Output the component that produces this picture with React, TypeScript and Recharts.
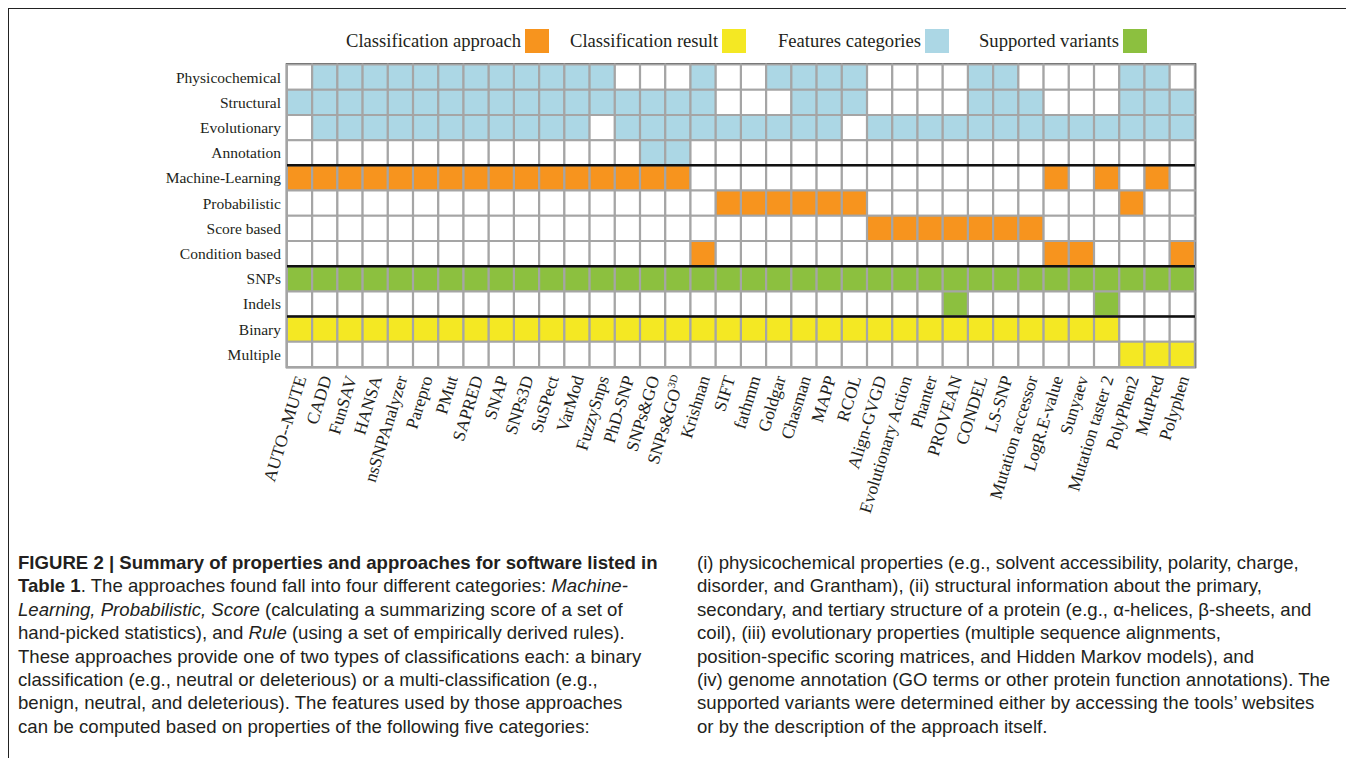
import React from "react";
import { BarChart, Bar, XAxis, YAxis, Cell, ReferenceLine, ReferenceArea } from "recharts";

// tools along the x axis ("^" marks a superscript part)
const tools = [
  "AUTO--MUTE", "CADD", "FunSAV", "HANSA", "nsSNPAnalyzer", "Parepro", "PMut", "SAPRED",
  "SNAP", "SNPs3D", "SuSPect", "VarMod", "FuzzySnps", "PhD-SNP", "SNPs&GO", "SNPs&GO^3D",
  "Krishnan", "SIFT", "fathmm", "Goldgar", "Chasman", "MAPP", "RCOL", "Align-GVGD",
  "Evolutionary Action", "Phanter", "PROVEAN", "CONDEL", "LS-SNP", "Mutation accessor",
  "LogR.E-value", "Sunyaev", "Mutation taster 2", "PolyPhen2", "MutPred", "Polyphen",
];

const rowLabels = [
  "Physicochemical", "Structural", "Evolutionary", "Annotation",
  "Machine-Learning", "Probabilistic", "Score based", "Condition based",
  "SNPs", "Indels", "Binary", "Multiple",
];

// 1 = property applies to the tool (one entry per tool, same order as `tools`)
const physicochemical = [0,1,1,1,1,1,1,1,1,1,1,1,1,0,0,0,1,0,0,1,1,1,1,0,0,0,0,1,1,0,0,0,0,1,1,0];
const structural      = [1,1,1,1,1,1,1,1,1,1,1,1,1,1,1,1,1,0,0,0,1,1,1,0,0,0,0,1,1,1,0,0,0,1,1,1];
const evolutionary    = [0,1,1,1,1,1,1,1,1,1,1,1,0,1,1,1,1,1,1,1,1,1,0,1,1,1,1,1,1,1,1,1,1,1,1,1];
const annotation      = [0,0,0,0,0,0,0,0,0,0,0,0,0,0,1,1,0,0,0,0,0,0,0,0,0,0,0,0,0,0,0,0,0,0,0,0];
const machineLearning = [1,1,1,1,1,1,1,1,1,1,1,1,1,1,1,1,0,0,0,0,0,0,0,0,0,0,0,0,0,0,1,0,1,0,1,0];
const probabilistic   = [0,0,0,0,0,0,0,0,0,0,0,0,0,0,0,0,0,1,1,1,1,1,1,0,0,0,0,0,0,0,0,0,0,1,0,0];
const scoreBased      = [0,0,0,0,0,0,0,0,0,0,0,0,0,0,0,0,0,0,0,0,0,0,0,1,1,1,1,1,1,1,0,0,0,0,0,0];
const conditionBased  = [0,0,0,0,0,0,0,0,0,0,0,0,0,0,0,0,1,0,0,0,0,0,0,0,0,0,0,0,0,0,1,1,0,0,0,1];
const snps            = [1,1,1,1,1,1,1,1,1,1,1,1,1,1,1,1,1,1,1,1,1,1,1,1,1,1,1,1,1,1,1,1,1,1,1,1];
const indels          = [0,0,0,0,0,0,0,0,0,0,0,0,0,0,0,0,0,0,0,0,0,0,0,0,0,0,1,0,0,0,0,0,1,0,0,0];
const binary          = [1,1,1,1,1,1,1,1,1,1,1,1,1,1,1,1,1,1,1,1,1,1,1,1,1,1,1,1,1,1,1,1,1,0,0,0];
const multiple        = [0,0,0,0,0,0,0,0,0,0,0,0,0,0,0,0,0,0,0,0,0,0,0,0,0,0,0,0,0,0,0,0,0,1,1,1];

const matrix = [
  physicochemical, structural, evolutionary, annotation,
  machineLearning, probabilistic, scoreBased, conditionBased,
  snps, indels, binary, multiple,
];

const BLUE = "#acd7e5";
const ORANGE = "#f7941e";
const GREEN = "#8cc03f";
const YELLOW = "#f4e823";
const rowColors = [BLUE, BLUE, BLUE, BLUE, ORANGE, ORANGE, ORANGE, ORANGE, GREEN, GREEN, YELLOW, YELLOW];
const groupBreaks = [4, 8, 10];

const legendItems = [
  { label: "Classification approach", color: ORANGE },
  { label: "Classification result", color: YELLOW },
  { label: "Features categories", color: BLUE },
  { label: "Supported variants", color: GREEN },
];
const legendLeft = [337, 561, 769, 970];

const SERIF = "'Liberation Serif', 'Times New Roman', serif";
const SANS = "'Liberation Sans', Arial, sans-serif";
const INK = "#231f20";

// every row is one unit-high stacked segment; colour comes from the matrix
const data = tools.map((tool) => {
  const d: Record<string, string | number> = { tool };
  rowLabels.forEach((_, j) => (d[`r${j}`] = 1));
  return d;
});

function ToolTick({ x, y, payload }: any) {
  const [main, sup] = String(payload.value).split("^");
  return (
    <g transform={`translate(${x + 7},${y + 9}) rotate(-73)`}>
      <text x={0} y={0} textAnchor="end" fontSize={17.5} fontFamily={SERIF} fill={INK}>
        {main}
        {sup && (
          <tspan fontSize={11} dy={-7}>
            {sup}
          </tspan>
        )}
      </text>
    </g>
  );
}

const captionLeft = [
  <b>FIGURE 2 | Summary of properties and approaches for software listed in</b>,
  <>
    <b>Table 1</b>. The approaches found fall into four different categories: <i>Machine-</i>
  </>,
  <>
    <i>Learning, Probabilistic, Score</i> (calculating a summarizing score of a set of
  </>,
  <>
    hand-picked statistics), and <i>Rule</i> (using a set of empirically derived rules).
  </>,
  "These approaches provide one of two types of classifications each: a binary",
  "classification (e.g., neutral or deleterious) or a multi-classification (e.g.,",
  "benign, neutral, and deleterious). The features used by those approaches",
  "can be computed based on properties of the following five categories:",
];

const captionRight = [
  "(i) physicochemical properties (e.g., solvent accessibility, polarity, charge,",
  "disorder, and Grantham), (ii) structural information about the primary,",
  "secondary, and tertiary structure of a protein (e.g., \u03b1-helices, \u03b2-sheets, and",
  "coil), (iii) evolutionary properties (multiple sequence alignments,",
  "position-specific scoring matrices, and Hidden Markov models), and",
  "(iv) genome annotation (GO terms or other protein function annotations). The",
  "supported variants were determined either by accessing the tools\u2019 websites",
  "or by the description of the approach itself.",
];

function CaptionColumn({ lines, left }: { lines: React.ReactNode[]; left: number }) {
  return (
    <>
      {lines.map((line, i) => (
        <div
          key={i}
          style={{
            position: "absolute",
            left,
            top: 542 + i * 23.4,
            lineHeight: "24px",
            whiteSpace: "nowrap",
            fontFamily: SANS,
            fontSize: 18.6,
            color: INK,
          }}
        >
          {line}
        </div>
      ))}
    </>
  );
}

export default function App() {
  return (
    <div
      style={{
        position: "relative",
        width: 1346,
        height: 760,
        boxSizing: "border-box",
        borderTop: "1px solid #222",
        borderLeft: "1px solid #222",
        borderRight: "1px solid #222",
        background: "#fff",
      }}
    >
      {legendItems.map((item, i) => (
        <div
          key={item.label}
          style={{
            position: "absolute",
            left: legendLeft[i],
            top: 20,
            display: "flex",
            alignItems: "center",
            fontFamily: SERIF,
            fontSize: 18.6,
            color: INK,
            whiteSpace: "nowrap",
          }}
        >
          <span>{item.label}</span>
          <span style={{ display: "inline-block", width: 24, height: 24, marginLeft: 4, background: item.color }} />
        </div>
      ))}

      <div style={{ position: "absolute", left: 0, top: 0 }}>
        <BarChart
          width={1330}
          height={518}
          data={data}
          margin={{ top: 55.5, right: 144, bottom: 0, left: 88 }}
          barCategoryGap={0}
          barGap={0}
        >
          <XAxis
            dataKey="tool"
            interval={0}
            height={160}
            axisLine={false}
            tickLine={false}
            tickSize={0}
            tick={<ToolTick />}
          />
          <YAxis
            type="number"
            domain={[0, rowLabels.length]}
            reversed
            ticks={rowLabels.map((_, j) => j + 0.5)}
            tickFormatter={(v: number) => rowLabels[Math.floor(v)]}
            interval={0}
            width={190}
            axisLine={false}
            tickLine={false}
            tickSize={0}
            tickMargin={6}
            tick={{ fill: INK, fontSize: 15.5, fontFamily: SERIF }}
          />
          {rowLabels.map((label, j) => (
            <Bar
              key={label}
              dataKey={`r${j}`}
              stackId="grid"
              isAnimationActive={false}
              stroke="#a5a5a5"
              strokeWidth={2}
            >
              {tools.map((tool, i) => (
                <Cell key={tool} fill={matrix[j][i] ? rowColors[j] : "#ffffff"} />
              ))}
            </Bar>
          ))}
          {groupBreaks.map((b) => (
            <ReferenceLine key={b} y={b} stroke="#111" strokeWidth={2.5} />
          ))}
          <ReferenceArea y1={0} y2={rowLabels.length} fill="none" fillOpacity={0} stroke="#111" strokeWidth={2.5} />
        </BarChart>
      </div>

      <CaptionColumn lines={captionLeft} left={9} />
      <CaptionColumn lines={captionRight} left={688} />
    </div>
  );
}
